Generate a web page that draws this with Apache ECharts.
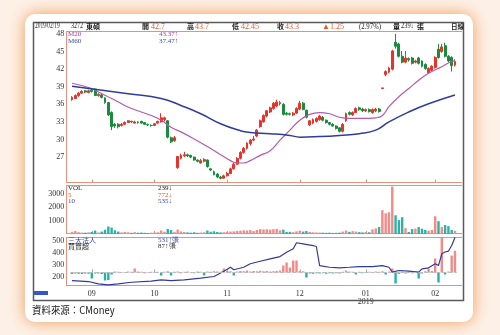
<!DOCTYPE html>
<html lang="zh-Hant">
<head>
<meta charset="UTF-8">
<title>3272 東碩 日線</title>
<script src="https://cdn.jsdelivr.net/npm/echarts@6/dist/echarts.min.js"></script>
<style>
  html, body { margin: 0; padding: 0; background: #fdf1e7; }
</style>
</head>
<body>
<div id="main" style="width: 500px;height:335px;"></div>
<script type="text/javascript">
var myChart = echarts.init(document.getElementById('main'));

// 交易日 (每月)
var tradeDays = [
  ['2018-08', [24, 27, 28, 29, 30, 31]],
  ['2018-09', [3, 4, 5, 6, 7, 10, 11, 12, 13, 14, 17, 18, 19, 20, 21, 25, 26, 27, 28]],
  ['2018-10', [1, 2, 3, 4, 5, 8, 9, 11, 12, 15, 16, 17, 18, 19, 22, 23, 24, 25, 26, 29, 30, 31]],
  ['2018-11', [1, 2, 5, 6, 7, 8, 9, 12, 13, 14, 15, 16, 19, 20, 21, 22, 23, 26, 27, 28, 29, 30]],
  ['2018-12', [3, 4, 5, 6, 7, 10, 11, 12, 13, 14, 17, 18, 19, 20, 21, 24, 25, 26, 27, 28]],
  ['2019-01', [2, 3, 4, 7, 8, 9, 10, 11, 14, 15, 16, 17, 18, 21, 22, 23, 24, 25, 28, 29, 30]],
  ['2019-02', [11, 12, 13, 14, 15, 18, 19]]
];

// K線 [開, 收, 低, 高]
var kline = [
  [36.8,37.2,36.6,37.4],[37.0,37.5,36.9,37.7],[37.5,37.9,37.3,38.1],[37.9,38.2,37.8,38.4],[38.3,38.1,37.9,38.4],
  [38.0,38.3,37.9,38.5],[38.4,38.2,38.0,38.6],[38.6,37.5,37.4,38.7],[37.5,37.7,37.3,37.9],[37.6,37.2,37.0,37.8],
  [37.1,36.3,36.1,37.2],[36.3,34.2,34.0,36.4],[34.6,32.2,31.6,34.8],[32.6,32.3,32.0,32.8],[32.6,32.2,31.9,32.8],
  [32.4,32.6,32.2,32.8],[32.6,32.9,32.5,33.1],[32.9,33.2,32.8,33.3],[33.1,33.0,32.8,33.2],[32.8,33.0,32.7,33.2],
  [33.0,32.9,32.7,33.1],[33.1,32.8,32.7,33.2],[32.9,32.6,32.5,33.0],[32.6,32.5,32.3,32.7],[32.4,32.4,32.2,32.6],
  [32.4,32.7,32.3,32.8],[32.8,33.1,32.7,33.2],[33.0,33.7,32.9,34.5],[33.4,33.7,33.1,33.9],[33.2,30.4,30.2,33.3],
  [30.3,29.6,29.4,30.5],[29.8,30.3,29.6,30.6],[25.2,27.1,25.0,27.2],[26.8,27.3,26.6,27.6],[27.2,27.4,27.0,27.9],
  [27.4,27.2,27.0,27.6],[27.3,27.0,26.8,27.4],[27.0,26.5,26.4,27.1],[26.5,26.3,26.1,26.6],[26.0,26.4,25.9,26.7],
  [26.3,26.6,26.1,26.8],[26.5,25.4,25.2,26.6],[25.0,24.8,24.6,25.1],[24.5,24.0,23.9,24.7],[24.1,23.6,23.4,24.3],
  [23.6,23.4,23.2,23.8],[23.4,23.8,23.3,24.0],[23.8,24.2,23.7,24.5],[24.2,25.0,24.1,25.2],[25.0,25.8,24.9,26.0],
  [25.8,26.8,25.7,27.0],[26.8,27.8,26.6,28.0],[27.8,28.5,27.6,28.7],[28.5,29.4,28.3,29.5],[29.3,29.9,29.0,30.1],
  [29.9,30.1,29.7,30.6],[30.6,31.6,30.4,31.8],[32.2,33.2,32.0,33.4],[33.0,34.1,32.9,34.3],[34.0,34.9,33.8,35.0],
  [34.7,35.4,34.5,35.6],[35.3,36.2,35.1,36.4],[35.7,36.4,35.5,36.8],[36.1,36.3,35.8,36.6],[36.0,34.3,34.1,36.2],
  [34.5,34.3,34.1,34.7],[34.4,34.3,34.1,34.6],[34.2,34.5,34.0,34.7],[34.5,35.3,34.4,35.5],[35.2,36.2,35.0,36.6],
  [36.2,35.1,35.0,36.4],[35.0,33.8,33.6,35.1],[32.5,33.2,32.3,33.3],[32.8,33.4,32.6,33.6],[33.1,33.6,32.9,33.8],
  [33.4,34.0,33.2,34.2],[33.8,33.3,33.1,34.0],[33.3,32.9,32.7,33.4],[32.9,32.6,32.4,33.0],[32.6,32.3,32.2,32.8],
  [32.3,31.9,31.7,32.4],[32.0,31.4,31.2,32.1],[31.4,32.6,31.2,32.8],[33.2,34.4,33.0,34.6],[34.6,34.3,34.1,34.8],
  [34.2,34.6,34.0,34.8],[34.6,35.3,34.5,35.5],[35.4,35.1,34.9,35.6],[35.2,34.9,34.7,35.4],[34.9,35.1,34.7,35.3],
  [35.1,34.8,34.6,35.3],[34.6,35.1,34.4,35.3],[34.9,35.2,34.7,35.4],[35.2,34.8,34.6,35.4],[38.7,38.8,38.7,38.8],
  [41.1,41.6,40.8,41.8],[41.5,42.2,41.3,42.4],[42.0,45.1,41.8,45.3],[46.6,45.9,45.5,48.0],[46.3,44.2,44.0,46.5],
  [44.2,43.2,43.0,45.1],[43.2,43.9,43.0,45.1],[43.8,43.6,43.3,44.0],[43.9,43.0,42.8,44.1],[43.2,43.4,43.0,43.6],
  [43.9,43.0,42.8,44.1],[43.4,42.5,42.3,43.5],[42.8,42.1,41.9,43.0],[41.4,42.1,41.2,42.3],[41.8,42.5,41.6,42.7],
  [42.3,44.0,42.1,44.2],[45.4,44.0,43.8,46.3],[45.0,45.8,44.8,46.3],[46.0,44.2,44.0,46.5],[44.2,43.4,43.2,44.4],
  [44.0,42.6,41.6,44.2],[42.7,43.3,42.45,43.7]
];

// 均線 [交易日序號, 價]
var ma20 = [
  [0,39.6],[6,38.7],[8,38.1],[12,37.0],[15,36.1],[18,35.3],[24,34.1],[27,33.3],[30,32.1],[33,31.3],
  [37,30.1],[41,28.8],[45,27.4],[48,26.4],[50,26.0],[52,26.0],[54,26.4],[57,27.3],[60,28.1],[63,29.9],
  [66,31.6],[69,33.3],[72,34.3],[75,34.6],[78,34.4],[81,33.8],[84,33.6],[88,33.6],[92,33.7],[94,34.1],
  [96,35.6],[99,37.3],[102,38.7],[105,40.1],[108,41.3],[112,42.4],[115,43.3],[116,43.4]
];
var ma60 = [
  [0,39.1],[8,38.5],[17,37.8],[27,37.0],[33,35.8],[39,34.4],[45,32.7],[51,31.5],[54,31.2],[60,31.0],
  [66,30.7],[69,30.4],[75,30.5],[81,30.7],[87,31.0],[92,31.6],[96,33.0],[102,34.7],[108,36.1],[116,37.6]
];

// 成交量 (張)
var volume = [
  160,220,140,110,100,130,150,260,120,180,
  320,560,480,280,180,120,150,130,90,140,
  100,110,90,80,100,110,130,260,170,380,
  290,160,330,190,150,120,100,130,90,110,
  130,260,170,200,150,120,130,150,180,200,
  230,250,270,260,290,220,300,360,340,350,
  330,360,380,280,330,150,160,140,200,250,
  180,230,150,130,120,110,100,90,100,80,
  90,100,180,260,160,220,180,140,120,150,
  130,350,420,520,1780,1550,1630,3550,1400,1040,
  1260,440,150,370,400,520,400,300,250,300,
  1330,960,520,670,590,300,239
];

// 三大法人買賣超 (張)
var netBuy = [
  -6,-4,-5,-6,-4,-5,-24,-4,-4,-6,
  -32,-30,-8,4,3,2,-2,4,3,16,
  4,3,-3,2,3,-2,3,-12,3,5,
  -12,3,4,-3,3,4,2,-3,4,3,
  -12,4,3,5,4,3,16,6,5,-12,
  4,6,5,8,4,6,5,7,5,6,
  4,5,6,8,28,40,20,48,48,6,
  5,-20,-4,-5,-3,-4,-3,-5,-3,-4,
  -3,-4,3,8,4,3,-8,3,-3,2,
  3,-2,4,3,5,-8,4,16,-44,-5,
  4,-4,3,-3,4,-24,-4,5,16,6,
  56,-40,140,-8,4,68,87
];

// 三大法人持股 [交易日序號, 張]
var holdings = [
  [0,172],[5,164],[8,145],[11,137],[14,145],[18,158],[24,167],[27,178],[30,172],[34,178],
  [39,192],[43,206],[46,250],[48,283],[49,262],[52,283],[54,312],[57,333],[60,353],[63,372],
  [65,408],[67,437],[68,487],[70,478],[73,464],[74,456],[75,297],[78,283],[81,278],[84,283],
  [87,289],[91,289],[94,297],[96,283],[97,242],[99,256],[102,250],[105,242],[106,270],[108,278],
  [110,312],[111,297],[112,395],[113,410],[114,417],[115,464],[116,531]
];

var priceTicks = [27, 30, 33, 36, 39, 42, 45, 48];
var volTicks = [1000, 2000, 3000];
var holdTicks = [200, 300, 400, 500];

var dates = [];
tradeDays.forEach(function (m) {
  m[1].forEach(function (d) {
    dates.push(m[0] + '-' + (d < 10 ? '0' + d : d));
  });
});

var RED = '#e8322a', GREEN = '#178c3c';
var SALMON = '#e5927c';

function isMonthStart(i) {
  return i > 0 && dates[i].slice(5, 7) !== dates[i - 1].slice(5, 7);
}

var volData = volume.map(function (v, i) {
  var up = kline[i][1] >= kline[i][0];
  return { value: v, itemStyle: { color: up ? '#f28a88' : '#2ab3a6' } };
});
var netData = netBuy.map(function (v) {
  return { value: v, itemStyle: { color: v >= 0 ? '#f28a88' : '#1fb2ae' } };
});

// 文字
var numFont = 'Liberation Serif';
var cjkFont = 'Noto Sans CJK TC';
function txt(text, x, y, color, size, font, weight, sx) {
  return {
    type: 'text', z: 50, x: x, y: y, scaleX: sx || 1,
    style: {
      text: text, x: 0, y: 0, fill: color || '#222',
      fontSize: size || 8, fontFamily: font || cjkFont, fontWeight: weight || 'normal',
      verticalAlign: 'middle'
    }
  };
}
function hline(x1, x2, y, color) {
  return { type: 'line', z: 1, shape: { x1: x1, y1: y, x2: x2, y2: y }, style: { stroke: color, lineWidth: 1 } };
}
function vline(x, y1, y2, color) {
  return { type: 'line', z: 1, shape: { x1: x, y1: y1, x2: x, y2: y2 }, style: { stroke: color, lineWidth: 1 } };
}

var graphics = [
  { type: 'rect', z: -100, shape: { x: 25, y: 14, width: 448, height: 308, r: 10 },
    style: { fill: '#ffffff', shadowBlur: 16, shadowColor: 'rgba(240,140,65,0.85)' } },
  { type: 'rect', z: 2, shape: { x: 33.5, y: 22.5, width: 430, height: 278 },
    style: { fill: null, stroke: '#5a5a5a', lineWidth: 1.5 } },
  hline(66, 462, 31.5, SALMON), hline(66, 462, 182.5, SALMON),
  hline(66, 462, 185.5, SALMON), hline(66, 462, 233.5, SALMON),
  hline(66, 462, 237.5, SALMON), hline(66, 462, 285.5, SALMON),
  vline(66.5, 31.5, 182.5, SALMON), vline(66.5, 185.5, 233.5, SALMON), vline(66.5, 237.5, 285.5, SALMON),
  { type: 'rect', z: 3, shape: { x: 34, y: 291, width: 14, height: 4 }, style: { fill: '#3557c4' } },
  // 表頭
  txt('2019/02/19', 35, 26.5, '#222', 7.5, numFont, 'normal', 0.72),
  txt('3272', 71, 26.5, '#222', 7.5, numFont, 'normal', 0.8),
  txt('東碩', 86, 26.5, '#222', 7, cjkFont, 'bold'),
  txt('開', 142, 26.5, '#222', 7, cjkFont, 'bold'), txt('42.7', 151, 26.5, '#e8552a', 8, numFont),
  txt('高', 187, 26.5, '#222', 7, cjkFont, 'bold'), txt('43.7', 195, 26.5, '#e8552a', 8, numFont),
  txt('低', 232, 26.5, '#222', 7, cjkFont, 'bold'), txt('42.45', 241, 26.5, '#e8552a', 8, numFont),
  txt('收', 277, 26.5, '#222', 7, cjkFont, 'bold'), txt('43.3', 285, 26.5, '#e8552a', 8, numFont),
  txt('▲1.25', 322, 26.5, '#e8552a', 8, numFont),
  txt('(2.97%)', 359, 26.5, '#222', 8, numFont, 'normal', 0.85),
  txt('量', 393, 26.5, '#222', 7, cjkFont, 'bold'), txt('239↓', 401, 26.5, '#222', 7.5, numFont, 'normal', 0.85),
  txt('張', 417, 26.5, '#222', 7, cjkFont, 'bold'),
  txt('日線', 451, 26.5, '#222', 6.5, cjkFont, 'bold'),
  // 均線
  txt('M20', 68, 34.5, '#a43c9c', 7, numFont), txt('43.37↑', 159, 34.5, '#a43c9c', 7, numFont),
  txt('M60', 68, 41.5, '#3848a8', 7, numFont), txt('37.47↑', 159, 41.5, '#3848a8', 7, numFont),
  // 成交量
  txt('VOL', 68, 188.5, '#222', 7, numFont), txt('239↓', 158, 188.5, '#222', 7, numFont),
  txt('5', 68, 195, '#e8552a', 7, numFont), txt('772↓', 158, 195, '#e8552a', 7, numFont),
  txt('10', 68, 201.5, '#3848a8', 7, numFont), txt('535↓', 158, 201.5, '#3848a8', 7, numFont),
  // 三大法人
  txt('三大法人', 68, 240.5, '#3848a8', 7), txt('531↑張', 158, 240.5, '#3848a8', 7, numFont),
  txt('買賣超', 68, 246.5, '#222', 7), txt('87↑張', 158, 246.5, '#222', 7, numFont),
  // 來源
  txt('資料來源：CMoney', 32, 310, '#1a1a1a', 10.5, cjkFont, 'normal', 0.9)
];

var gridLeft = 70.35, gridWidth = 386.3;

function xAx(idx, showLabel) {
  return {
    type: 'category', gridIndex: idx, data: dates, boundaryGap: true,
    axisLine: { show: false },
    axisTick: { show: true, inside: true, length: 3, alignWithLabel: true,
      interval: function (i) { return isMonthStart(i); },
      lineStyle: { color: SALMON } },
    axisLabel: {
      show: showLabel, margin: 4, fontSize: 8, lineHeight: 8, color: '#333', fontFamily: numFont,
      interval: function (i) { return isMonthStart(i); },
      formatter: function (v) {
        var m = v.slice(5, 7);
        return m === '01' ? m + '\n' + v.slice(0, 4) : m;
      }
    },
    splitLine: { show: false }
  };
}

function yAx(idx, min, max, ticks) {
  return {
    type: 'value', gridIndex: idx, min: min, max: max, scale: true,
    axisLine: { show: false }, axisTick: { show: false }, splitLine: { show: false },
    axisLabel: { customValues: ticks, fontSize: 8, color: '#333', margin: 6, fontFamily: numFont,
      formatter: function (v) { return String(v); } }
  };
}

option = {
  backgroundColor: '#fdf1e7',
  animation: false,
  graphic: graphics,
  grid: [
    { left: gridLeft, width: gridWidth, top: 32, height: 150.5 },
    { left: gridLeft, width: gridWidth, top: 185.5, height: 48.5 },
    { left: gridLeft, width: gridWidth, top: 237.5, height: 48 }
  ],
  xAxis: [xAx(0, false), xAx(1, false), xAx(2, true)],
  yAxis: [
    yAx(0, 22.67, 48.34, priceTicks),
    yAx(1, 0, 3630, volTicks),
    yAx(2, 131, 531, holdTicks),
    { type: 'value', gridIndex: 2, min: -52, max: 140, show: false, splitLine: { show: false } }
  ],
  series: [
    {
      name: 'K', type: 'candlestick', xAxisIndex: 0, yAxisIndex: 0, data: kline, barWidth: 2.4,
      itemStyle: { color: RED, color0: GREEN, borderColor: RED, borderColor0: GREEN, borderWidth: 1 }
    },
    {
      name: 'M20', type: 'line', xAxisIndex: 0, yAxisIndex: 0, data: ma20, smooth: true,
      showSymbol: false, lineStyle: { color: '#b25bae', width: 1.2 }
    },
    {
      name: 'M60', type: 'line', xAxisIndex: 0, yAxisIndex: 0, data: ma60, smooth: true,
      showSymbol: false, lineStyle: { color: '#2e3d9c', width: 1.5 }
    },
    {
      name: 'VOL', type: 'bar', xAxisIndex: 1, yAxisIndex: 1, data: volData, barWidth: 2.4
    },
    {
      name: '買賣超', type: 'bar', xAxisIndex: 2, yAxisIndex: 3, data: netData, barWidth: 2.4,
      markLine: {
        silent: true, symbol: 'none', label: { show: false },
        lineStyle: { color: '#bbbbbb', type: 'dashed', width: 1 },
        data: [{ yAxis: 0 }]
      }
    },
    {
      name: '三大法人', type: 'line', xAxisIndex: 2, yAxisIndex: 2, data: holdings,
      showSymbol: false, lineStyle: { color: '#33399a', width: 1.2 }
    }
  ]
};

myChart.setOption(option);
</script>
</body>
</html>
